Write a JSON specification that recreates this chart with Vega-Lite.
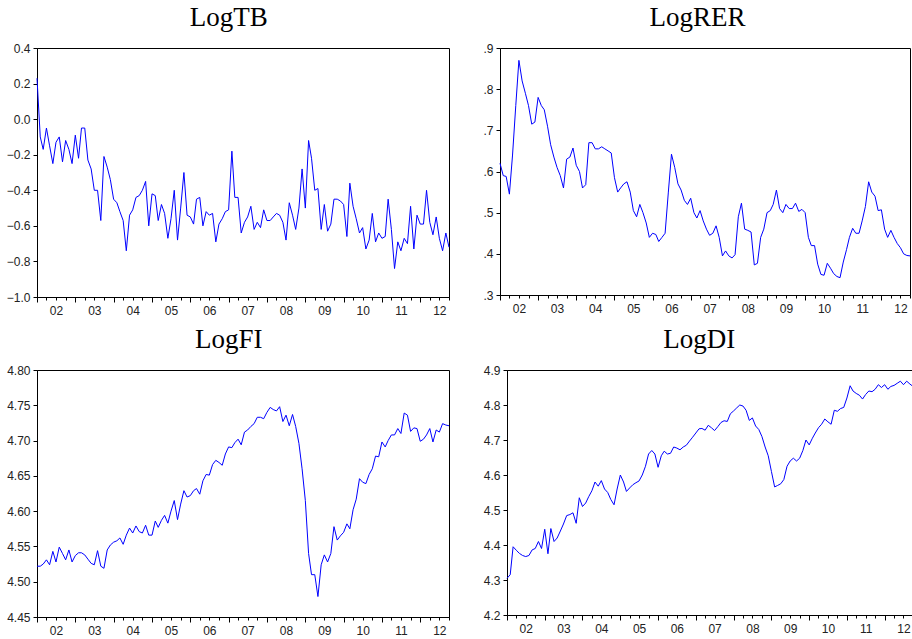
{
  "$schema": "https://vega.github.io/schema/vega-lite/v6.json",
  "background": "white",
  "padding": {"left": 5, "top": 3, "right": 0, "bottom": 0},
  "columns": 2,
  "align": "none",
  "spacing": {"row": 6, "column": 30},
  "datasets": {
    "s": [
      {"d":"2002-01-01","tb":0.23,"rer":0.62,"fi":4.522,"di":4.305},
      {"d":"2002-02-01","tb":-0.10,"rer":0.59,"fi":4.522,"di":4.315},
      {"d":"2002-03-01","tb":-0.17,"rer":0.588,"fi":4.525,"di":4.395},
      {"d":"2002-04-01","tb":-0.05,"rer":0.545,"fi":4.531,"di":4.385},
      {"d":"2002-05-01","tb":-0.15,"rer":0.64,"fi":4.524,"di":4.376},
      {"d":"2002-06-01","tb":-0.25,"rer":0.76,"fi":4.543,"di":4.37},
      {"d":"2002-07-01","tb":-0.13,"rer":0.87,"fi":4.528,"di":4.367},
      {"d":"2002-08-01","tb":-0.10,"rer":0.82,"fi":4.549,"di":4.37},
      {"d":"2002-09-01","tb":-0.24,"rer":0.79,"fi":4.54,"di":4.386},
      {"d":"2002-10-01","tb":-0.12,"rer":0.76,"fi":4.531,"di":4.39},
      {"d":"2002-11-01","tb":-0.17,"rer":0.715,"fi":4.545,"di":4.41},
      {"d":"2002-12-01","tb":-0.25,"rer":0.72,"fi":4.528,"di":4.39},
      {"d":"2003-01-01","tb":-0.09,"rer":0.78,"fi":4.537,"di":4.445},
      {"d":"2003-02-01","tb":-0.22,"rer":0.76,"fi":4.541,"di":4.375},
      {"d":"2003-03-01","tb":-0.05,"rer":0.75,"fi":4.541,"di":4.447},
      {"d":"2003-04-01","tb":-0.05,"rer":0.71,"fi":4.538,"di":4.41},
      {"d":"2003-05-01","tb":-0.23,"rer":0.665,"fi":4.532,"di":4.42},
      {"d":"2003-06-01","tb":-0.28,"rer":0.635,"fi":4.526,"di":4.44},
      {"d":"2003-07-01","tb":-0.40,"rer":0.61,"fi":4.524,"di":4.46},
      {"d":"2003-08-01","tb":-0.40,"rer":0.59,"fi":4.544,"di":4.484},
      {"d":"2003-09-01","tb":-0.57,"rer":0.56,"fi":4.522,"di":4.487},
      {"d":"2003-10-01","tb":-0.21,"rer":0.63,"fi":4.519,"di":4.492},
      {"d":"2003-11-01","tb":-0.27,"rer":0.635,"fi":4.545,"di":4.462},
      {"d":"2003-12-01","tb":-0.34,"rer":0.657,"fi":4.552,"di":4.535},
      {"d":"2004-01-01","tb":-0.45,"rer":0.615,"fi":4.556,"di":4.51},
      {"d":"2004-02-01","tb":-0.47,"rer":0.60,"fi":4.558,"di":4.52},
      {"d":"2004-03-01","tb":-0.52,"rer":0.56,"fi":4.562,"di":4.538},
      {"d":"2004-04-01","tb":-0.57,"rer":0.568,"fi":4.553,"di":4.555},
      {"d":"2004-05-01","tb":-0.74,"rer":0.67,"fi":4.566,"di":4.58},
      {"d":"2004-06-01","tb":-0.54,"rer":0.67,"fi":4.576,"di":4.568},
      {"d":"2004-07-01","tb":-0.51,"rer":0.655,"fi":4.569,"di":4.584},
      {"d":"2004-08-01","tb":-0.44,"rer":0.655,"fi":4.579,"di":4.56},
      {"d":"2004-09-01","tb":-0.43,"rer":0.66,"fi":4.571,"di":4.55},
      {"d":"2004-10-01","tb":-0.40,"rer":0.655,"fi":4.569,"di":4.53},
      {"d":"2004-11-01","tb":-0.35,"rer":0.65,"fi":4.58,"di":4.515},
      {"d":"2004-12-01","tb":-0.60,"rer":0.645,"fi":4.566,"di":4.56},
      {"d":"2005-01-01","tb":-0.42,"rer":0.585,"fi":4.566,"di":4.60},
      {"d":"2005-02-01","tb":-0.43,"rer":0.55,"fi":4.586,"di":4.58},
      {"d":"2005-03-01","tb":-0.57,"rer":0.56,"fi":4.577,"di":4.553},
      {"d":"2005-04-01","tb":-0.48,"rer":0.57,"fi":4.587,"di":4.563},
      {"d":"2005-05-01","tb":-0.53,"rer":0.575,"fi":4.594,"di":4.572},
      {"d":"2005-06-01","tb":-0.67,"rer":0.55,"fi":4.583,"di":4.578},
      {"d":"2005-07-01","tb":-0.56,"rer":0.505,"fi":4.60,"di":4.583},
      {"d":"2005-08-01","tb":-0.40,"rer":0.49,"fi":4.615,"di":4.60},
      {"d":"2005-09-01","tb":-0.68,"rer":0.52,"fi":4.588,"di":4.625},
      {"d":"2005-10-01","tb":-0.50,"rer":0.50,"fi":4.61,"di":4.66},
      {"d":"2005-11-01","tb":-0.30,"rer":0.475,"fi":4.629,"di":4.67},
      {"d":"2005-12-01","tb":-0.54,"rer":0.44,"fi":4.62,"di":4.66},
      {"d":"2006-01-01","tb":-0.55,"rer":0.45,"fi":4.622,"di":4.622},
      {"d":"2006-02-01","tb":-0.59,"rer":0.447,"fi":4.629,"di":4.655},
      {"d":"2006-03-01","tb":-0.45,"rer":0.43,"fi":4.632,"di":4.668},
      {"d":"2006-04-01","tb":-0.44,"rer":0.44,"fi":4.624,"di":4.66},
      {"d":"2006-05-01","tb":-0.60,"rer":0.45,"fi":4.643,"di":4.662},
      {"d":"2006-06-01","tb":-0.52,"rer":0.55,"fi":4.652,"di":4.68},
      {"d":"2006-07-01","tb":-0.54,"rer":0.642,"fi":4.651,"di":4.677},
      {"d":"2006-08-01","tb":-0.53,"rer":0.61,"fi":4.666,"di":4.672},
      {"d":"2006-09-01","tb":-0.69,"rer":0.57,"fi":4.672,"di":4.68},
      {"d":"2006-10-01","tb":-0.59,"rer":0.555,"fi":4.669,"di":4.685},
      {"d":"2006-11-01","tb":-0.56,"rer":0.53,"fi":4.665,"di":4.697},
      {"d":"2006-12-01","tb":-0.52,"rer":0.52,"fi":4.681,"di":4.708},
      {"d":"2007-01-01","tb":-0.51,"rer":0.535,"fi":4.691,"di":4.72},
      {"d":"2007-02-01","tb":-0.18,"rer":0.50,"fi":4.69,"di":4.732},
      {"d":"2007-03-01","tb":-0.44,"rer":0.487,"fi":4.697,"di":4.733},
      {"d":"2007-04-01","tb":-0.44,"rer":0.505,"fi":4.702,"di":4.728},
      {"d":"2007-05-01","tb":-0.64,"rer":0.48,"fi":4.694,"di":4.742},
      {"d":"2007-06-01","tb":-0.58,"rer":0.46,"fi":4.712,"di":4.735},
      {"d":"2007-07-01","tb":-0.55,"rer":0.445,"fi":4.715,"di":4.727},
      {"d":"2007-08-01","tb":-0.49,"rer":0.45,"fi":4.72,"di":4.738},
      {"d":"2007-09-01","tb":-0.62,"rer":0.468,"fi":4.724,"di":4.75},
      {"d":"2007-10-01","tb":-0.58,"rer":0.44,"fi":4.733,"di":4.755},
      {"d":"2007-11-01","tb":-0.61,"rer":0.395,"fi":4.733,"di":4.753},
      {"d":"2007-12-01","tb":-0.51,"rer":0.407,"fi":4.731,"di":4.775},
      {"d":"2008-01-01","tb":-0.57,"rer":0.395,"fi":4.74,"di":4.783},
      {"d":"2008-02-01","tb":-0.57,"rer":0.39,"fi":4.747,"di":4.792},
      {"d":"2008-03-01","tb":-0.55,"rer":0.398,"fi":4.744,"di":4.80},
      {"d":"2008-04-01","tb":-0.53,"rer":0.49,"fi":4.742,"di":4.797},
      {"d":"2008-05-01","tb":-0.54,"rer":0.523,"fi":4.748,"di":4.785},
      {"d":"2008-06-01","tb":-0.58,"rer":0.46,"fi":4.727,"di":4.756},
      {"d":"2008-07-01","tb":-0.68,"rer":0.457,"fi":4.736,"di":4.763},
      {"d":"2008-08-01","tb":-0.47,"rer":0.453,"fi":4.721,"di":4.74},
      {"d":"2008-09-01","tb":-0.54,"rer":0.373,"fi":4.737,"di":4.73},
      {"d":"2008-10-01","tb":-0.62,"rer":0.377,"fi":4.72,"di":4.71},
      {"d":"2008-11-01","tb":-0.50,"rer":0.44,"fi":4.696,"di":4.68},
      {"d":"2008-12-01","tb":-0.28,"rer":0.46,"fi":4.66,"di":4.655},
      {"d":"2009-01-01","tb":-0.50,"rer":0.50,"fi":4.615,"di":4.61},
      {"d":"2009-02-01","tb":-0.12,"rer":0.505,"fi":4.54,"di":4.566},
      {"d":"2009-03-01","tb":-0.22,"rer":0.52,"fi":4.51,"di":4.57},
      {"d":"2009-04-01","tb":-0.40,"rer":0.555,"fi":4.51,"di":4.575},
      {"d":"2009-05-01","tb":-0.39,"rer":0.51,"fi":4.479,"di":4.587},
      {"d":"2009-06-01","tb":-0.62,"rer":0.50,"fi":4.524,"di":4.625},
      {"d":"2009-07-01","tb":-0.48,"rer":0.52,"fi":4.538,"di":4.64},
      {"d":"2009-08-01","tb":-0.63,"rer":0.51,"fi":4.528,"di":4.648},
      {"d":"2009-09-01","tb":-0.59,"rer":0.51,"fi":4.54,"di":4.64},
      {"d":"2009-10-01","tb":-0.45,"rer":0.523,"fi":4.578,"di":4.648},
      {"d":"2009-11-01","tb":-0.45,"rer":0.503,"fi":4.559,"di":4.67},
      {"d":"2009-12-01","tb":-0.46,"rer":0.508,"fi":4.565,"di":4.70},
      {"d":"2010-01-01","tb":-0.48,"rer":0.50,"fi":4.57,"di":4.686},
      {"d":"2010-02-01","tb":-0.66,"rer":0.44,"fi":4.582,"di":4.705},
      {"d":"2010-03-01","tb":-0.36,"rer":0.42,"fi":4.575,"di":4.72},
      {"d":"2010-04-01","tb":-0.49,"rer":0.42,"fi":4.602,"di":4.735},
      {"d":"2010-05-01","tb":-0.56,"rer":0.375,"fi":4.617,"di":4.745},
      {"d":"2010-06-01","tb":-0.64,"rer":0.35,"fi":4.646,"di":4.76},
      {"d":"2010-07-01","tb":-0.61,"rer":0.348,"fi":4.641,"di":4.752},
      {"d":"2010-08-01","tb":-0.73,"rer":0.377,"fi":4.639,"di":4.745},
      {"d":"2010-09-01","tb":-0.68,"rer":0.365,"fi":4.652,"di":4.785},
      {"d":"2010-10-01","tb":-0.53,"rer":0.352,"fi":4.66,"di":4.782},
      {"d":"2010-11-01","tb":-0.69,"rer":0.345,"fi":4.678,"di":4.79},
      {"d":"2010-12-01","tb":-0.64,"rer":0.342,"fi":4.677,"di":4.793},
      {"d":"2011-01-01","tb":-0.67,"rer":0.38,"fi":4.698,"di":4.82},
      {"d":"2011-02-01","tb":-0.66,"rer":0.41,"fi":4.691,"di":4.855},
      {"d":"2011-03-01","tb":-0.45,"rer":0.44,"fi":4.70,"di":4.84},
      {"d":"2011-04-01","tb":-0.62,"rer":0.462,"fi":4.708,"di":4.833},
      {"d":"2011-05-01","tb":-0.84,"rer":0.45,"fi":4.708,"di":4.828},
      {"d":"2011-06-01","tb":-0.69,"rer":0.45,"fi":4.717,"di":4.817},
      {"d":"2011-07-01","tb":-0.74,"rer":0.48,"fi":4.71,"di":4.83},
      {"d":"2011-08-01","tb":-0.67,"rer":0.515,"fi":4.739,"di":4.84},
      {"d":"2011-09-01","tb":-0.70,"rer":0.575,"fi":4.736,"di":4.838},
      {"d":"2011-10-01","tb":-0.49,"rer":0.55,"fi":4.713,"di":4.845},
      {"d":"2011-11-01","tb":-0.73,"rer":0.54,"fi":4.718,"di":4.858},
      {"d":"2011-12-01","tb":-0.54,"rer":0.505,"fi":4.717,"di":4.85},
      {"d":"2012-01-01","tb":-0.59,"rer":0.507,"fi":4.699,"di":4.858},
      {"d":"2012-02-01","tb":-0.59,"rer":0.46,"fi":4.702,"di":4.845},
      {"d":"2012-03-01","tb":-0.40,"rer":0.44,"fi":4.708,"di":4.853},
      {"d":"2012-04-01","tb":-0.58,"rer":0.457,"fi":4.717,"di":4.856},
      {"d":"2012-05-01","tb":-0.65,"rer":0.44,"fi":4.698,"di":4.862},
      {"d":"2012-06-01","tb":-0.55,"rer":0.425,"fi":4.715,"di":4.868},
      {"d":"2012-07-01","tb":-0.67,"rer":0.415,"fi":4.712,"di":4.858},
      {"d":"2012-08-01","tb":-0.74,"rer":0.40,"fi":4.724,"di":4.868},
      {"d":"2012-09-01","tb":-0.64,"rer":0.396,"fi":4.722,"di":4.86},
      {"d":"2012-10-01","tb":-0.72,"rer":0.395,"fi":4.721,"di":4.853}
    ]
  },
  "data": {"name": "s"},
  "concat": [
    {
      "title": "LogTB",
      "width": 412, "height": 249,
      "mark": {"type": "line", "color": "#0000ff", "strokeWidth": 1},
      "encoding": {
        "x": {"field": "d", "type": "temporal", "title": null,
          "scale": {"type": "utc", "nice": false, "domain": [{"year": 2002, "month": 1, "date": 1, "utc": true}, {"year": 2012, "month": 10, "date": 1, "utc": true}]},
          "axis": {"tickCount": {"interval": "month", "step": 3}, "labelExpr": "utcmonth(datum.value) == 6 ? utcFormat(datum.value, '%y') : ''", "tickSize": {"condition": {"test": "utcmonth(datum.value) == 0", "value": 5}, "value": 3}, "labelOverlap": false, "labelFlush": false, "labelPadding": 5}},
        "y": {"field": "tb", "type": "quantitative", "title": null,
          "scale": {"domain": [-1, 0.4], "nice": false, "zero": false},
          "axis": {"values": [-1, -0.8, -0.6, -0.4, -0.2, 0, 0.2, 0.4], "format": ".1f"}}
      }
    },
    {
      "title": "LogRER",
      "width": 410, "height": 247,
      "mark": {"type": "line", "color": "#0000ff", "strokeWidth": 1},
      "encoding": {
        "x": {"field": "d", "type": "temporal", "title": null,
          "scale": {"type": "utc", "nice": false, "domain": [{"year": 2002, "month": 1, "date": 1, "utc": true}, {"year": 2012, "month": 10, "date": 1, "utc": true}]},
          "axis": {"tickCount": {"interval": "month", "step": 3}, "labelExpr": "utcmonth(datum.value) == 6 ? utcFormat(datum.value, '%y') : ''", "tickSize": {"condition": {"test": "utcmonth(datum.value) == 0", "value": 5}, "value": 3}, "labelOverlap": false, "labelFlush": false, "labelPadding": 5}},
        "y": {"field": "rer", "type": "quantitative", "title": null,
          "scale": {"domain": [0.3, 0.9], "nice": false, "zero": false},
          "axis": {"values": [0.3, 0.4, 0.5, 0.6, 0.7, 0.8, 0.9], "labelExpr": "replace(format(datum.value, '.1f'), '0.', '.')"}}
      }
    },
    {
      "title": "LogFI",
      "width": 412, "height": 247,
      "mark": {"type": "line", "color": "#0000ff", "strokeWidth": 1},
      "encoding": {
        "x": {"field": "d", "type": "temporal", "title": null,
          "scale": {"type": "utc", "nice": false, "domain": [{"year": 2002, "month": 1, "date": 1, "utc": true}, {"year": 2012, "month": 10, "date": 1, "utc": true}]},
          "axis": {"tickCount": {"interval": "month", "step": 3}, "labelExpr": "utcmonth(datum.value) == 6 ? utcFormat(datum.value, '%y') : ''", "tickSize": {"condition": {"test": "utcmonth(datum.value) == 0", "value": 5}, "value": 3}, "labelOverlap": false, "labelFlush": false, "labelPadding": 5}},
        "y": {"field": "fi", "type": "quantitative", "title": null,
          "scale": {"domain": [4.45, 4.8], "nice": false, "zero": false},
          "axis": {"values": [4.45, 4.5, 4.55, 4.6, 4.65, 4.7, 4.75, 4.8], "format": ".2f"}}
      }
    },
    {
      "title": "LogDI",
      "width": 406, "height": 245,
      "mark": {"type": "line", "color": "#0000ff", "strokeWidth": 1},
      "encoding": {
        "x": {"field": "d", "type": "temporal", "title": null,
          "scale": {"type": "utc", "nice": false, "domain": [{"year": 2002, "month": 1, "date": 1, "utc": true}, {"year": 2012, "month": 10, "date": 1, "utc": true}]},
          "axis": {"tickCount": {"interval": "month", "step": 3}, "labelExpr": "utcmonth(datum.value) == 6 ? utcFormat(datum.value, '%y') : ''", "tickSize": {"condition": {"test": "utcmonth(datum.value) == 0", "value": 5}, "value": 3}, "labelOverlap": false, "labelFlush": false, "labelPadding": 5}},
        "y": {"field": "di", "type": "quantitative", "title": null,
          "scale": {"domain": [4.2, 4.9], "nice": false, "zero": false},
          "axis": {"values": [4.2, 4.3, 4.4, 4.5, 4.6, 4.7, 4.8, 4.9], "format": ".1f"}}
      }
    }
  ],
  "config": {
    "view": {"stroke": "#000000", "strokeWidth": 1},
    "title": {"font": "Liberation Serif", "fontSize": 27, "fontWeight": "normal", "color": "#000000", "anchor": "middle", "frame": "bounds", "offset": 10},
    "axis": {"grid": false, "labelFont": "Liberation Sans", "labelFontSize": 12, "labelColor": "#222222", "domainColor": "#000000", "tickColor": "#000000", "tickSize": 4, "labelPadding": 3}
  }
}
